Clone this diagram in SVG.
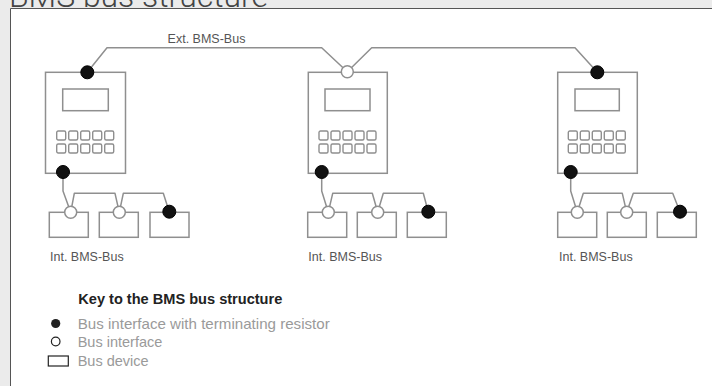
<svg xmlns="http://www.w3.org/2000/svg" width="712" height="386" viewBox="0 0 712 386">
<style>
.ln{fill:none;stroke:#8f8f8f;stroke-width:1.5;stroke-linejoin:round}
.bx{fill:#fff;stroke:#8f8f8f;stroke-width:1.5}
.key{fill:#fff;stroke:#8f8f8f;stroke-width:1.4}
.term{fill:#111;stroke:#000;stroke-width:1}
.open{fill:#fff;stroke:#8f8f8f;stroke-width:1.5}
.lbl{font-family:"Liberation Sans",Arial,sans-serif;font-size:12.5px;fill:#555}
.lg{font-family:"Liberation Sans",Arial,sans-serif;font-size:14.5px;fill:#9a9a9a}
</style>
<defs>
<g id="pad">
<rect class="key" x="0" y="0" width="9" height="9" rx="1.5"/>
<rect class="key" x="12" y="0" width="9" height="9" rx="1.5"/>
<rect class="key" x="24" y="0" width="9" height="9" rx="1.5"/>
<rect class="key" x="36" y="0" width="9" height="9" rx="1.5"/>
<rect class="key" x="48" y="0" width="9" height="9" rx="1.5"/>
<rect class="key" x="0" y="13" width="9" height="9" rx="1.5"/>
<rect class="key" x="12" y="13" width="9" height="9" rx="1.5"/>
<rect class="key" x="24" y="13" width="9" height="9" rx="1.5"/>
<rect class="key" x="36" y="13" width="9" height="9" rx="1.5"/>
<rect class="key" x="48" y="13" width="9" height="9" rx="1.5"/>
</g>
</defs>
<rect x="0" y="0" width="712" height="386" fill="#ebebeb"/>
<rect x="10" y="8" width="702" height="378" fill="#fff"/>
<path d="M10.5,386 V8.5 H712" fill="none" stroke="#555" stroke-width="1"/>
<text x="9" y="7" font-family="Roboto,'Open Sans','Liberation Sans',sans-serif" font-weight="300" font-size="31" fill="#444" textLength="259" lengthAdjust="spacingAndGlyphs">BMS bus structure</text>

<g id="connectors">
<path class="ln" d="M87.3,72.3 L107,47.7 H321.7 L347.3,71.7 L371.7,47.7 H575 L597.3,72.3"/>
<path class="ln" d="M63,172 V191 L70.7,212.3 L74.3,193.3 H115 L119.3,212.3 L123.3,193.3 H163.3 L169.3,212"/>
<path class="ln" d="M321.7,172 V191 L328.3,212.3 L332.7,193.3 H372.3 L377.7,212.3 L383.3,193.3 H423.3 L428.3,212"/>
<path class="ln" d="M570.7,172 V191 L577.3,212.3 L583.3,193.3 H622.3 L626.7,212.3 L633.3,193.3 H672.7 L680,212"/>
</g>
<text class="lbl" x="206.5" y="43" text-anchor="middle">Ext. BMS-Bus</text>

<g id="controller1">
<rect class="bx" x="45.5" y="72.3" width="80" height="101"/>
<rect class="bx" x="62.7" y="89" width="45.6" height="21.7"/>
<use href="#pad" x="56.7" y="131"/>
<circle class="term" cx="87.3" cy="72.3" r="6.5"/>
<circle class="term" cx="63" cy="172" r="6.5"/>
</g>
<g id="controller2">
<rect class="bx" x="308.3" y="72.3" width="79" height="101"/>
<rect class="bx" x="325" y="89" width="45" height="21.7"/>
<use href="#pad" x="319" y="131"/>
<circle class="open" cx="347.3" cy="71.7" r="6"/>
<circle class="term" cx="321.7" cy="172" r="6.5"/>
</g>
<g id="controller3">
<rect class="bx" x="557.7" y="72.3" width="79.6" height="101"/>
<rect class="bx" x="575" y="89" width="44.3" height="21.7"/>
<use href="#pad" x="568.3" y="131"/>
<circle class="term" cx="597.3" cy="72.3" r="6.5"/>
<circle class="term" cx="570.7" cy="172" r="6.5"/>
</g>

<g id="devices1">
<rect class="bx" x="49.3" y="212.3" width="39" height="25"/>
<rect class="bx" x="99.3" y="212.3" width="39" height="25"/>
<rect class="bx" x="150" y="212.3" width="39" height="25"/>
<circle class="open" cx="70.7" cy="212.3" r="6"/>
<circle class="open" cx="119.3" cy="212.3" r="6"/>
<circle class="term" cx="169.3" cy="211.7" r="6.5"/>
<text class="lbl" x="50" y="260.7">Int. BMS-Bus</text>
</g>
<g id="devices2">
<rect class="bx" x="307.7" y="212.3" width="39" height="25"/>
<rect class="bx" x="357.3" y="212.3" width="39" height="25"/>
<rect class="bx" x="407.3" y="212.3" width="39" height="25"/>
<circle class="open" cx="328.3" cy="212.3" r="6"/>
<circle class="open" cx="377.7" cy="212.3" r="6"/>
<circle class="term" cx="428.3" cy="211.7" r="6.5"/>
<text class="lbl" x="308.3" y="260.7">Int. BMS-Bus</text>
</g>
<g id="devices3">
<rect class="bx" x="557.7" y="212.3" width="39" height="25"/>
<rect class="bx" x="607.3" y="212.3" width="39" height="25"/>
<rect class="bx" x="657.3" y="212.3" width="39" height="25"/>
<circle class="open" cx="577.3" cy="212.3" r="6"/>
<circle class="open" cx="626.7" cy="212.3" r="6"/>
<circle class="term" cx="680" cy="211.7" r="6.5"/>
<text class="lbl" x="559" y="260.7">Int. BMS-Bus</text>
</g>

<g id="legend">
<text x="78.3" y="303.5" font-family="'Liberation Sans',Arial,sans-serif" font-weight="bold" font-size="14" fill="#222" textLength="204" lengthAdjust="spacingAndGlyphs">Key to the BMS bus structure</text>
<circle cx="55.7" cy="323.5" r="4.6" fill="#222"/>
<text class="lg" x="77.7" y="328.5" textLength="252" lengthAdjust="spacingAndGlyphs">Bus interface with terminating resistor</text>
<circle cx="55.7" cy="341.5" r="4.3" fill="#fff" stroke="#222" stroke-width="1.2"/>
<text class="lg" x="77.7" y="346.5">Bus interface</text>
<rect x="48.3" y="356" width="20" height="10" fill="#fff" stroke="#222" stroke-width="1.2"/>
<text class="lg" x="77.7" y="366">Bus device</text>
</g>
</svg>
